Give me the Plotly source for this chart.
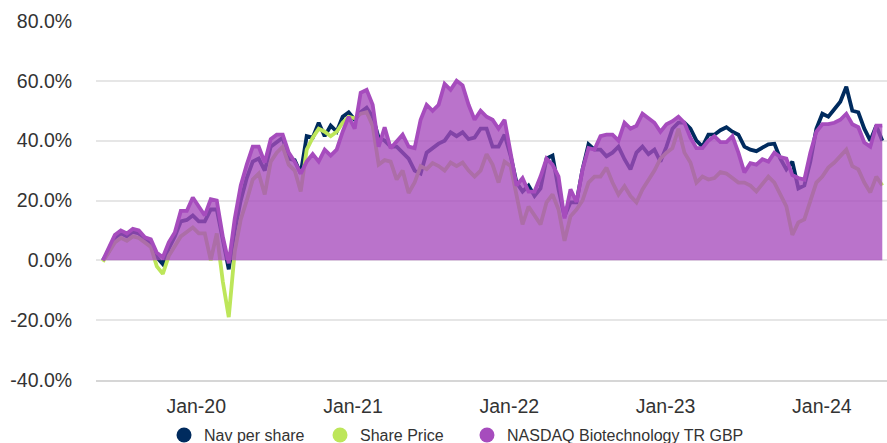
import pandas as pd
import plotly.graph_objects as go

# Fortnightly observation dates (cumulative performance, %)
dates = pd.date_range("2019-05-28", periods=131, freq="14D")

nav_per_share = [
    0, 3, 7.5, 9, 8, 9.5, 9, 7, 5.5, 1, -1.3, 4, 8, 13, 13.5, 15, 13, 13, 17, 17,
    7, -3, 10, 20, 27.5, 33, 34, 30, 38, 39.5, 41, 34, 33.5, 29, 41.5, 41, 46, 41.5, 45, 43,
    48, 49.5, 47, 49.5, 51, 48, 41, 40, 38, 38, 36, 34, 30, 29, 36, 37.5, 39, 40, 42.8, 41.5,
    42.8, 40.5, 41, 44, 44, 38, 38, 42, 35, 26, 23, 25, 21.5, 24, 34, 35, 23.7, 14.7, 19.4, 19.4,
    30.4, 38.8, 37, 37, 34.8, 36, 38, 33.8, 30.4, 36, 38, 35.5, 37, 33, 38, 44, 46, 46, 44, 40,
    38, 42, 42, 43.5, 44.5, 43, 42, 38, 37, 36.5, 37.5, 38.8, 39, 34, 30.4, 33, 24, 25, 33, 44,
    49, 48, 50.5, 53, 58, 50, 49.5, 44, 40, 45, 40,
]

share_price = [
    -0.5, 2.5, 6, 7.5, 6.5, 8, 7.5, 6, 4.5, -2, -4.5, 1.5, 5, 8, 9.5, 11, 9, 9, 0, 9,
    -7, -19, 3, 13.7, 20, 27, 29, 22, 33, 36, 38, 32, 30, 23, 37, 41, 44, 43, 41.5, 43,
    46, 48, 47.5, 49, 49.5, 45, 32, 33.5, 33, 27, 30, 22.5, 26, 31.5, 30.5, 32.5, 31.5, 30, 32.7, 31.5,
    32.7, 30, 28, 30, 35.5, 32, 26, 33, 31.5, 21.5, 12, 18, 15, 12, 19.4, 22, 17, 6.5, 14.7, 17,
    20, 26, 28, 28, 31, 26, 22, 24.8, 21.5, 19.4, 23.7, 27, 30, 34, 36, 37.5, 44, 36, 32.7, 26,
    28, 27, 27.5, 29.5, 29, 27.5, 26, 26, 25, 23, 25.5, 28, 26, 22, 18, 8.5, 12.7, 13.7, 19.4, 26,
    28, 31, 32.7, 34.8, 37, 31.5, 30.4, 26, 22.7, 28, 25,
]

nasdaq_biotech = [
    0, 4, 8.5, 10, 9, 10.5, 10, 7.7, 7, 2.5, 1, 6, 9.3, 16.5, 16.5, 21, 18, 15, 20.4, 20,
    8, -1, 14, 25, 32, 38, 38, 32.7, 40.5, 42, 42, 36, 33, 29, 33, 35.5, 33, 37, 35, 37,
    43, 48, 44, 56, 57, 52, 38, 44.5, 37.5, 40, 42, 38, 37.5, 47, 52, 50, 52, 59, 57, 60,
    58.5, 52, 47, 50, 48, 47, 44, 47, 36, 25, 27.5, 23, 23, 28, 34, 32, 28, 14, 23.7, 19.5,
    30.4, 37.5, 37, 41.5, 42, 42, 40, 46, 44, 45, 49, 47.5, 46, 43, 45.5, 46.5, 48, 46, 41, 37.5,
    37.5, 40, 41.5, 39.5, 39.5, 41.5, 36, 29.4, 32.5, 32, 33.8, 33, 36, 34.5, 34, 28.5, 27.5, 27, 36, 43,
    45.5, 45.5, 46, 47, 49, 45.5, 44.5, 39.4, 38, 45, 45,
]

series_names = ["Nav per share", "Share Price", "NASDAQ Biotechnology TR GBP"]
series_colors = ["#002b5e", "#bde65a", "#a64cbd"]

y_ticks = [-40, -20, 0, 20, 40, 60, 80]
y_tick_labels = ["-40.0%", "-20.0%", "0.0%", "20.0%", "40.0%", "60.0%", "80.0%"]
x_ticks = ["2020-01-01", "2021-01-01", "2022-01-01", "2023-01-01", "2024-01-01"]

fig = go.Figure()

fig.add_trace(go.Scatter(x=dates, y=nav_per_share, mode="lines",
                         line=dict(color=series_colors[0], width=3.8),
                         showlegend=False, hoverinfo="skip"))
fig.add_trace(go.Scatter(x=dates, y=share_price, mode="lines",
                         line=dict(color=series_colors[1], width=3.8),
                         showlegend=False, hoverinfo="skip"))
fig.add_trace(go.Scatter(x=dates, y=nasdaq_biotech, mode="lines",
                         line=dict(color=series_colors[2], width=3.8),
                         fill="tozeroy", fillcolor="rgba(166,76,189,0.78)",
                         showlegend=False, hoverinfo="skip"))

# legend entries with round markers, one legend box per entry
legend_ids = ["legend", "legend2", "legend3"]
legend_x = [0.086, 0.2832, 0.469]
for name, col, lid in zip(series_names, series_colors, legend_ids):
    fig.add_trace(go.Scatter(x=[None], y=[None], mode="markers", name=name,
                             legend=lid,
                             marker=dict(color=col, size=15, symbol="circle")))

legend_style = dict(orientation="h", xanchor="left", y=-0.106, yanchor="top",
                    font=dict(size=16, color="#333333"), itemsizing="trace",
                    bgcolor="rgba(0,0,0,0)")

fig.update_layout(
    width=887, height=443,
    margin=dict(l=96, r=0, t=21, b=63, autoexpand=False),
    paper_bgcolor="white", plot_bgcolor="white",
    font=dict(family="Liberation Sans, Arial, sans-serif", color="#333333"),
    showlegend=True,
    legend=dict(x=legend_x[0], **legend_style),
    legend2=dict(x=legend_x[1], **legend_style),
    legend3=dict(x=legend_x[2], **legend_style),
)

fig.update_xaxes(
    type="date",
    range=["2019-05-12", "2024-06-01"],
    tickvals=x_ticks, tickformat="%b-%y",
    tickfont=dict(size=19.5, color="#333333"),
    showgrid=False, zeroline=False,
    showline=True, linecolor="#d6d6d6", linewidth=1.5,
    ticks="outside", ticklen=8, tickcolor="rgba(0,0,0,0)",
)
fig.update_yaxes(
    range=[-40, 80], tickvals=y_ticks, ticktext=y_tick_labels,
    tickfont=dict(size=19.5, color="#333333"),
    showgrid=True, gridcolor="#e6e6e6", gridwidth=1.5,
    zeroline=False,
    ticks="outside", ticklen=19, tickcolor="rgba(0,0,0,0)",
)

fig.write_html(
    "out.html",
    config={"displayModeBar": False},
    post_script="document.body.style.margin='0';document.body.style.overflow='hidden';",
)
